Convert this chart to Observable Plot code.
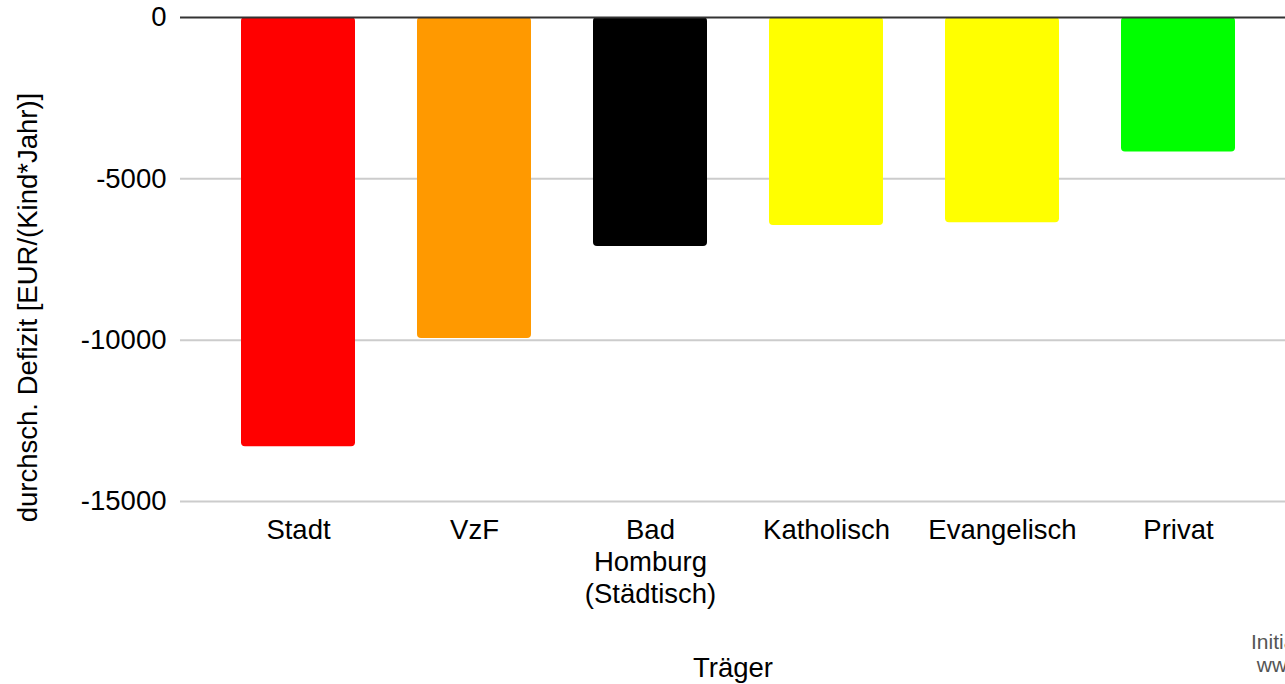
<!DOCTYPE html>
<html>
<head>
<meta charset="utf-8">
<script src="https://cdn.jsdelivr.net/npm/d3@7"></script>
<script src="https://cdn.jsdelivr.net/npm/@observablehq/plot@0.6"></script>
<style>
  html, body { margin: 0; padding: 0; background: #fff; overflow: hidden; }
  #wrap { position: relative; width: 1285px; height: 684px; overflow: hidden; font-family: "Liberation Sans", Arial, sans-serif; }
  #note { position: absolute; left: 1251px; top: 630px; color: #555; font-size: 21px; line-height: 23px; white-space: nowrap; }
</style>
</head>
<body>
<div id="wrap"><div id="note">Initiative<br>&nbsp;www.</div></div>
<script>
const categories = ["Stadt", "VzF", "Bad\nHomburg\n(Städtisch)", "Katholisch", "Evangelisch", "Privat"];
const values = [-13300, -9950, -7100, -6450, -6360, -4170];
const colors = ["#ff0000", "#ff9900", "#000000", "#ffff00", "#ffff00", "#00ff00"];
const yTicks = [0, -5000, -10000, -15000];

const data = categories.map((c, i) => ({cat: c, value: values[i], color: colors[i]}));

const chart = Plot.plot({
  width: 1285,
  height: 684,
  marginLeft: 180,
  marginRight: 0,
  marginTop: 17,
  marginBottom: 183,
  style: {fontFamily: "'Liberation Sans', Arial, sans-serif", fontSize: "27.5px", color: "#000", background: "transparent"},
  x: {domain: categories, paddingInner: 0.35, paddingOuter: 0.314, align: 0.55, label: null},
  y: {domain: [-15000, 0], ticks: yTicks, label: null},
  marks: [
    Plot.ruleY(yTicks.filter(d => d !== 0), {stroke: "#cccccc", strokeWidth: 2}),
    Plot.barY(data, {x: "cat", y: "value", fill: "color", rx: 4}),
    Plot.ruleY([0], {stroke: "#333333", strokeWidth: 2}),
    Plot.axisY({ticks: yTicks, tickSize: 0, tickPadding: 14, fontSize: 27.5, label: null, tickFormat: d => String(d)}),
    Plot.axisX({tickSize: 0, tickPadding: 15, fontSize: 27.5, label: null, lineHeight: 1.164}),
    Plot.text(["durchsch. Defizit [EUR/(Kind*Jahr)]"], {frameAnchor: "left", textAnchor: "middle", dx: -152, dy: 48, rotate: -90, fontSize: 27.5, fill: "#000"}),
    Plot.text(["Träger"], {frameAnchor: "bottom", lineAnchor: "middle", dy: 167, fontSize: 27.5, fill: "#000"})
  ]
});
document.getElementById("wrap").prepend(chart);
</script>
</body>
</html>
